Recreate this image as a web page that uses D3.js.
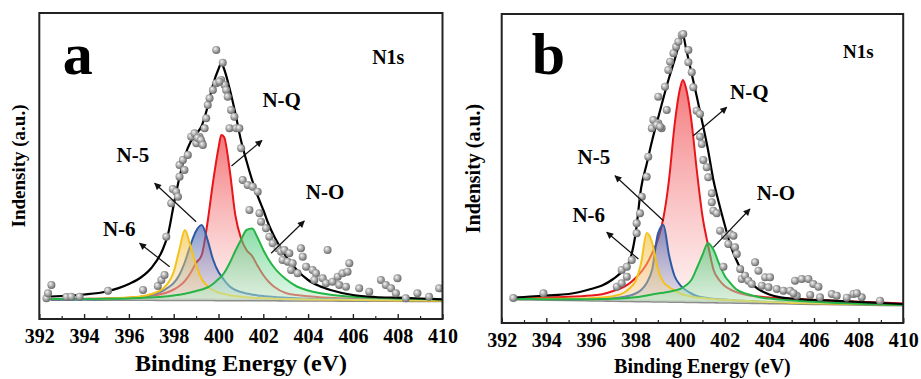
<!DOCTYPE html>
<html>
<head>
<meta charset="utf-8">
<script src="https://cdn.jsdelivr.net/npm/d3@7/dist/d3.min.js"></script>
<style>
  html, body { margin: 0; padding: 0; background: #fff; }
  svg { display: block; }
  svg text { font-family: "Liberation Serif", "Times New Roman", Times, "DejaVu Serif", serif !important; font-weight: bold; fill: #000; }
</style>
</head>
<body>
<svg id="chart" width="921" height="379"></svg>
<script>
// ---------------- data ----------------
// Binding energy grid (eV) on which the fitted curves are given
const energy = [392.5, 393, 394, 395, 396, 396.5, 397, 397.5, 397.75, 398, 398.25, 398.5, 398.75, 399, 399.25,
  399.5, 399.75, 400, 400.125, 400.25, 400.5, 400.75, 401, 401.25, 401.5, 401.75, 402, 402.25, 402.5, 403,
  403.5, 404, 404.5, 405, 406, 407, 408, 409, 410];
const xTicks = [392, 394, 396, 398, 400, 402, 404, 406, 408, 410];
const xMinorTicks = [393, 395, 397, 399, 401, 403, 405, 407, 409];
const componentNames = ["N-Q", "N-5", "N-6", "N-O"];

// Sample a: background, envelope and components (a.u.)
const backgroundA = [0.8, 0.75, 0.66, 0.57, 0.48, 0.43, 0.39, 0.34, 0.32, 0.3, 0.27, 0.25, 0.23, 0.21, 0.18,
  0.16, 0.14, 0.11, 0.1, 0.09, 0.07, 0.05, 0.02, 0, -0.02, -0.04, -0.07, -0.09, -0.11, -0.16,
  -0.2, -0.25, -0.29, -0.34, -0.43, -0.52, -0.62, -0.71, -0.8];
const envelopeA = [3.5, 4, 5.5, 8.5, 16, 22, 32, 50, 66, 95, 122, 144, 158, 166, 174,
  192, 215, 231, 237, 231, 211, 187, 160, 139, 120, 104, 90, 75, 63, 44,
  30, 20, 14, 10, 5, 3, 2.3, 1.5, 0.7];
const nqA = [0.8, 0.9, 1.1, 1.4, 2.2, 3, 4.2, 6.2, 8, 10.5, 14, 19, 27, 37, 45,
  76, 117, 152, 165, 163, 130, 85, 62, 50, 44, 34, 25, 18, 13, 7,
  5, 3.8, 2.8, 2.2, 1.4, 0.9, 0.5, 0.2, 0];
const n5A = [0.6, 0.6, 0.8, 1.1, 2, 3, 5, 9, 12.5, 17, 25, 38, 55, 69, 75,
  61, 41, 28, 24, 20, 13.5, 10, 8, 6.5, 5.5, 4.6, 4, 3.4, 2.9, 2.2,
  1.7, 1.3, 1, 0.8, 0.4, 0.2, 0, -0.3, -0.5];
const n6A = [0.9, 0.9, 1, 1.4, 2.5, 3.4, 6, 11, 17, 28, 50, 70, 54, 35, 21,
  14, 10, 7.5, 6.8, 6, 4.8, 3.9, 3.2, 2.7, 2.3, 2, 1.7, 1.5, 1.3, 1,
  0.8, 0.6, 0.4, 0.3, 0, -0.2, -0.4, -0.6, -0.7];
const noA = [0.9, 0.9, 1, 1.2, 1.6, 1.9, 2.5, 3.2, 3.8, 4.5, 5.3, 6.3, 7.5, 9, 10.5,
  12.5, 16, 21, 23.5, 27, 37, 49, 60, 70, 71.5, 62, 50, 40, 32, 21,
  13.5, 9.5, 7, 5.3, 3.3, 2.2, 1.5, 1, 0.6];
const measuredEA = [392.32, 392.39, 392.54, 393.21, 393.43, 393.8, 395.07, 396.63, 397.29, 397.45, 397.59, 397.67,
  397.89, 397.96, 398.11, 398.19, 398.26, 398.26, 398.41, 398.48, 398.63, 398.78, 398.93, 399.15, 399.01,
  399.27, 399.38, 399.45, 399.52, 399.6, 399.75, 399.9, 400.19, 400.12, 400.27, 399.9, 400.04, 400.34,
  400.41, 400.56, 400.71, 400.49, 400.79, 400.93, 401.01, 401.08, 401.3, 401.53, 401.75, 401.38, 401.83,
  401.9, 402.12, 402.27, 402.42, 402.64, 402.79, 402.94, 403.16, 402.86, 403.09, 403.31, 403.24, 403.53,
  403.68, 403.76, 403.91, 404.2, 404.35, 404.28, 404.65, 404.87, 404.8, 405.09, 405.32, 405.54, 405.76,
  405.84, 405.39, 405.69, 406.28, 406.73, 407.25, 407.47, 407.7, 407.99, 407.92, 408.36, 408.88, 409.4,
  409.85, 399.07, 399.22, 399.3];
const measuredIA = [1.7, 6.7, 15, 3, 3.3, 3.3, 9.3, 10, 14, 20, 25, 63.3,
  96.7, 111, 108.3, 103.3, 123.3, 135, 140, 130, 145, 163.3, 166.7, 163.3, 156.7,
  156.7, 171.7, 181.7, 195, 201.7, 210, 250, 237.3, 220, 215, 216.7, 218.3, 210,
  203.3, 190, 183.3, 171.7, 171.7, 171.7, 151.7, 120, 115, 113.3, 108.3, 90, 86.7,
  78.3, 71.7, 63.3, 56.7, 51.7, 48.3, 50, 46.7, 40, 38.3, 36.7, 30, 26.7,
  51.7, 43.3, 33.3, 30, 26.7, 20, 21.7, 50, 16.7, 18.3, 23.3, 26.7, 28.3,
  36.7, 15, 13.3, 11.7, 8.3, 20, 15, 11.7, 21.7, 6.7, 1.7, 6.7, 3.3,
  11.7, 162, 160, 155];

// Sample b: background, envelope and components (a.u.)
const backgroundB = [1, 0.83, 0.49, 0.14, -0.2, -0.37, -0.54, -0.71, -0.8, -0.89, -0.97, -1.06, -1.14, -1.23, -1.31,
  -1.4, -1.49, -1.57, -1.61, -1.66, -1.74, -1.83, -1.91, -2, -2.09, -2.17, -2.26, -2.34, -2.43, -2.6,
  -2.77, -2.94, -3.11, -3.29, -3.63, -3.97, -4.31, -4.66, -5];
const envelopeB = [2.5, 3, 4.5, 6, 11, 14.5, 21, 31, 40, 66, 112, 136, 160, 181, 202,
  222, 240, 259, 265, 253, 228, 203, 177, 150, 119, 96, 75, 55, 41, 21,
  11, 5.5, 2.7, 1.5, 0, -0.8, -2, -3, -4];
const nqB = [2, 2.1, 2.5, 3.2, 4.6, 5.8, 9, 13.5, 17, 22, 28, 36, 47, 60, 82,
  120, 175, 212, 220, 213, 180, 129, 84, 55, 30, 20, 14, 10.5, 8, 5,
  3.5, 2.5, 1.8, 1.2, 0.2, -0.8, -1.8, -2.6, -3.5];
const n5B = [1.3, 1.2, 1, 0.8, 0.9, 1.2, 1.8, 3.2, 4.5, 6.5, 10, 17, 31, 66, 75,
  45, 24, 15, 12, 10, 6.5, 4, 2.8, 1.8, 1.2, 0.8, 0.4, 0, -0.4, -1,
  -1.6, -2.1, -2.5, -2.9, -3.4, -3.8, -4.2, -4.6, -4.95];
const n6B = [1.5, 1.4, 1.3, 1.3, 1.8, 2.5, 3.8, 7.5, 12, 19, 37, 67, 57, 31, 18,
  13, 9.5, 6.5, 5.5, 4.8, 3.5, 2.6, 1.9, 1.3, 0.9, 0.5, 0.2, -0.1, -0.4, -1,
  -1.6, -2.1, -2.5, -2.9, -3.4, -3.8, -4.2, -4.6, -4.95];
const noB = [1.1, 1, 0.8, 0.7, 0.8, 1, 1.3, 1.8, 2.2, 2.8, 3.6, 4.6, 5.6, 6.6, 7.2,
  8.2, 9.5, 11, 12.5, 14.5, 20, 32, 45, 57, 50, 36, 24, 17, 11, 6,
  3, 1.4, 0.4, -0.4, -1.8, -3, -3.8, -4.4, -4.9];
const measuredEB = [392.52, 393.87, 397.16, 397.38, 397.61, 397.38, 397.61, 397.83, 398.05, 398.05, 398.2, 398.28,
  398.5, 398.57, 398.73, 398.8, 399.02, 399.17, 399.02, 399.4, 399.32, 399.47, 399.55, 399.7, 399.82,
  399.92, 400.07, 400.14, 400.37, 400.37, 400.52, 400.59, 400.74, 400.89, 400.89, 400.97, 401.04, 401.19,
  401.26, 401.42, 401.42, 401.49, 401.64, 401.79, 402.01, 402.24, 402.39, 402.16, 402.46, 402.54, 402.69,
  402.76, 402.91, 403.06, 403.21, 403.36, 403.51, 403.81, 404.03, 403.66, 403.96, 404.33, 404.63, 404.93,
  405.15, 405.45, 405.75, 405.97, 405.23, 406.2, 406.27, 406.8, 407.02, 407.47, 407.77, 408.14, 407.92,
  408.96, 405.08, 405.83, 401.94, 398.95, 399.1];
const measuredIB = [2, 6.7, 13.3, 16.7, 23.3, 30, 33.3, 40, 66.7, 76.7, 86.7, 103.3,
  123.3, 143.3, 171.7, 180, 176.7, 171.7, 203.3, 190, 213.3, 230, 238.3, 246.7, 253.3,
  258.3, 265, 266, 250, 237.7, 227.7, 212.7, 189.3, 186, 163.3, 156, 140, 132.7,
  122.7, 106.7, 97.7, 89.3, 86.7, 69.3, 64.3, 66, 64.3, 56, 52.7, 46, 31,
  21, 24.3, 19.3, 16, 37.7, 29.3, 22.7, 22.7, 14.3, 12.7, 11, 9.3, 9.3,
  19.3, 21, 21, 16, 4.3, 13.3, 2.7, 6, 4.3, 2.3, 6, 2.7, 6.7,
  -0.7, 6.7, 5, 33.3, 175, 173.3];

// ---------------- drawing ----------------
const SERIF = '"Liberation Serif", "Times New Roman", Times, "DejaVu Serif", serif';
const svg = d3.select("#chart");
const defs = svg.append("defs");

// shaded sphere used for the measured points
const ball = defs.append("radialGradient").attr("id", "ball")
  .attr("cx", "45%").attr("cy", "45%").attr("r", "60%").attr("fx", "35%").attr("fy", "32%");
ball.append("stop").attr("offset", "0%").attr("stop-color", "#f6f6f6");
ball.append("stop").attr("offset", "45%").attr("stop-color", "#b4b4b4");
ball.append("stop").attr("offset", "100%").attr("stop-color", "#5c5c5c");

// arrowhead for the peak annotations
defs.append("marker").attr("id", "arrow").attr("viewBox", "0 0 10 10")
  .attr("refX", 9).attr("refY", 5).attr("markerUnits", "userSpaceOnUse")
  .attr("markerWidth", 8).attr("markerHeight", 7).attr("orient", "auto")
  .append("path").attr("d", "M0,0 L10,5 L0,10 Z").attr("fill", "#111");

const componentStyle = {
  "N-Q": { stroke: "#e8161b", top: "#f04a4e", bottom: "#fde6e6", opTop: 0.75, opBottom: 0.5 },
  "N-5": { stroke: "#2c5ba6", top: "#4660ab", bottom: "#9aa6d2", opTop: 0.65, opBottom: 0.25 },
  "N-6": { stroke: "#f4c21a", top: "#f3bf3c", bottom: "#f6dca0", opTop: 0.65, opBottom: 0.3 },
  "N-O": { stroke: "#27b446", top: "#3cc56c", bottom: "#bff0cf", opTop: 0.6, opBottom: 0.5 }
};

function drawPanel(p) {
  const g = svg.append("g").attr("font-family", SERIF).attr("font-weight", "bold");
  const x = d3.scaleLinear().domain([392, 410]).range([p.left, p.right]);
  const y = d3.scaleLinear().domain(p.yDomain).range([p.bottom, p.top]);

  const clipId = "clip-" + p.id;
  defs.append("clipPath").attr("id", clipId).append("rect")
    .attr("x", p.left).attr("y", p.top).attr("width", p.right - p.left).attr("height", p.bottom - p.top);
  const plot = g.append("g").attr("clip-path", `url(#${clipId})`);

  // baseline (background)
  const line = d3.line().x((d, i) => x(energy[i])).y(d => y(d)).curve(d3.curveMonotoneX);
  plot.append("path").attr("d", line(p.background))
    .attr("fill", "none").attr("stroke", "#8c8c8c").attr("stroke-width", 3);

  // fitted components: filled between the component and the background
  p.components.forEach((vals, k) => {
    const name = componentNames[k];
    const st = componentStyle[name];
    const gid = `grad-${p.id}-${k}`;
    const grad = defs.append("linearGradient").attr("id", gid)
      .attr("x1", 0).attr("y1", 0).attr("x2", 0).attr("y2", 1);
    grad.append("stop").attr("offset", "0%").attr("stop-color", st.top).attr("stop-opacity", st.opTop);
    grad.append("stop").attr("offset", "100%").attr("stop-color", st.bottom).attr("stop-opacity", st.opBottom);

    const area = d3.area().x((d, i) => x(energy[i]))
      .y0((d, i) => y(p.background[i])).y1(d => y(d)).curve(d3.curveMonotoneX);
    plot.append("path").attr("d", area(vals)).attr("fill", `url(#${gid})`);
    plot.append("path").attr("d", line(vals))
      .attr("fill", "none").attr("stroke", st.stroke).attr("stroke-width", 2);
  });

  // envelope
  plot.append("path").attr("d", line(p.envelope))
    .attr("fill", "none").attr("stroke", "#000").attr("stroke-width", 2.2);

  // measured points
  plot.selectAll("circle.pt").data(p.measuredE).join("circle").attr("class", "pt")
    .attr("cx", d => x(d)).attr("cy", (d, i) => y(p.measuredI[i]))
    .attr("r", 4).attr("fill", "url(#ball)");

  // annotations: labels and arrows
  p.notes.forEach(n => {
    g.append("text").attr("x", x(n.label[0])).attr("y", y(n.label[1]))
      .attr("font-size", n.size).text(n.text);
    if (n.from) {
      g.append("line").attr("x1", x(n.from[0])).attr("y1", y(n.from[1]))
        .attr("x2", x(n.to[0])).attr("y2", y(n.to[1]))
        .attr("stroke", "#111").attr("stroke-width", 1.2).attr("marker-end", "url(#arrow)");
    }
  });

  // bottom axis: major and minor ticks pointing inward
  const axisG = g.append("g").attr("transform", `translate(0,${p.bottom})`)
    .call(d3.axisBottom(x).tickValues(xTicks).tickSizeInner(-5).tickSizeOuter(0).tickPadding(p.tickPad));
  axisG.attr("font-family", SERIF).attr("font-size", 20);
  axisG.select(".domain").remove();
  axisG.selectAll(".tick line").attr("stroke", "#222").attr("stroke-width", 1.4);
  axisG.selectAll(".tick text").attr("fill", "#000");
  const minorG = g.append("g").attr("transform", `translate(0,${p.bottom})`)
    .call(d3.axisBottom(x).tickValues(xMinorTicks).tickSizeInner(-3).tickSizeOuter(0).tickFormat(""));
  minorG.select(".domain").remove();
  minorG.selectAll(".tick line").attr("stroke", "#222").attr("stroke-width", 1.2);

  // frame
  g.append("rect").attr("x", p.left).attr("y", p.top)
    .attr("width", p.right - p.left).attr("height", p.bottom - p.top)
    .attr("fill", "none").attr("stroke", "#222").attr("stroke-width", 2);

  // axis titles
  g.append("text").attr("x", (p.left + p.right) / 2).attr("y", p.xTitleY)
    .attr("text-anchor", "middle").attr("font-size", p.xTitleSize).text("Binding Energy (eV)");
  g.append("text").attr("transform", `translate(${p.yTitleX},${(p.top + p.bottom) / 2}) rotate(-90)`)
    .attr("text-anchor", "middle").attr("dominant-baseline", "central")
    .attr("font-size", p.yTitleSize).text("Indensity (a.u.)");
}

drawPanel({
  id: "a", left: 39.3, right: 442.5, top: 13, bottom: 319, yDomain: [-19, 287], tickPad: 10,
  xTitleY: 371, xTitleSize: 24, yTitleX: 18.5, yTitleSize: 19,
  background: backgroundA, envelope: envelopeA, components: [nqA, n5A, n6A, noA],
  measuredE: measuredEA, measuredI: measuredIA,
  notes: [
    { text: "a", label: [393.05, 226], size: 60 },
    { text: "N1s", label: [406.86, 236], size: 20 },
    { text: "N-Q", label: [401.96, 193.3], size: 21, from: [400.58, 134], to: [401.94, 159.5] },
    { text: "N-O", label: [403.9, 101], size: 21, from: [402.35, 46.7], to: [403.83, 79] },
    { text: "N-5", label: [395.45, 138.3], size: 21, from: [399.0, 78.3], to: [397.15, 116.7] },
    { text: "N-6", label: [394.84, 64], size: 21, from: [397.82, 33.3], to: [396.48, 56.7] }
  ]
});

drawPanel({
  id: "b", left: 501.7, right: 903.2, top: 14, bottom: 323, yDomain: [-23, 286], tickPad: 9.5,
  xTitleY: 373, xTitleSize: 20, yTitleX: 473, yTitleSize: 20,
  background: backgroundB, envelope: envelopeB, components: [nqB, n5B, n6B, noB],
  measuredE: measuredEB, measuredI: measuredIB,
  notes: [
    { text: "b", label: [393.35, 226], size: 60 },
    { text: "N1s", label: [407.3, 241.7], size: 19 },
    { text: "N-Q", label: [402.24, 201.3], size: 21, from: [400.59, 164.3], to: [402.09, 192.7] },
    { text: "N-O", label: [403.43, 99.7], size: 21, from: [401.49, 52.7], to: [403.13, 91] },
    { text: "N-5", label: [395.4, 136], size: 21, from: [399.25, 79.3], to: [397.08, 124.3] },
    { text: "N-6", label: [395.17, 78], size: 21, from: [398.13, 41], to: [396.71, 67.7] }
  ]
});
</script>
</body>
</html>
